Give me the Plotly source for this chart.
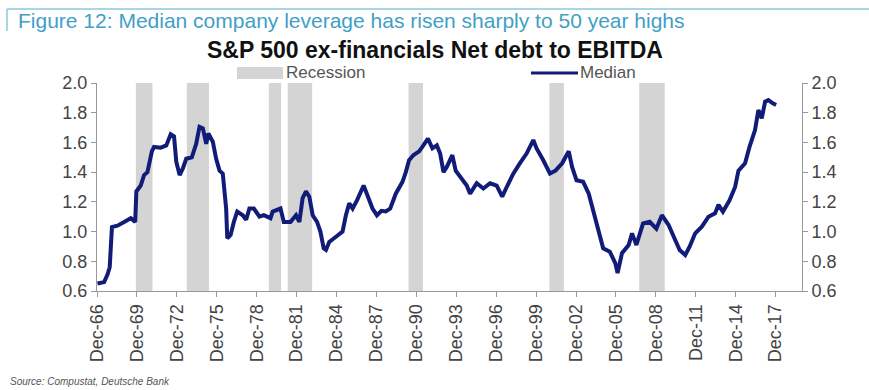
import plotly.graph_objects as go

# ---------------- data ----------------
dates = ["1966-12","1967-06","1967-09","1967-11","1968-01","1968-06","1968-12","1969-06","1969-10","1969-11",
         "1970-03","1970-06","1970-09","1971-01","1971-03","1971-09","1972-02","1972-06","1972-09","1972-11",
         "1973-02","1973-05","1973-08","1974-01","1974-05","1974-08","1974-11","1975-02","1975-04","1975-08",
         "1975-11","1976-02","1976-05","1976-08","1976-09","1976-12","1977-03","1977-06","1977-11","1978-02",
         "1978-05","1978-09","1979-02","1979-06","1979-12","1980-02","1980-09","1980-12","1981-06","1981-11",
         "1982-02","1982-05","1982-08","1982-11","1983-02","1983-06","1983-09","1983-12","1984-02","1984-05",
         "1984-11","1985-05","1985-08","1985-11","1986-02","1986-06","1986-12","1987-03","1987-08","1987-12",
         "1988-04","1988-08","1988-12","1989-05","1989-08","1989-11","1990-02","1990-05","1990-09","1991-02",
         "1991-05","1991-10","1992-02","1992-06","1992-09","1992-12","1993-03","1993-08","1993-11","1994-05",
         "1994-09","1994-12","1995-06","1995-12","1996-06","1996-12","1997-05","1997-09","1998-03","1998-09",
         "1999-03","1999-09","1999-12","2000-06","2000-12","2001-05","2001-11","2002-05","2002-08","2002-12",
         "2003-06","2003-11","2004-03","2004-08","2004-12","2005-06","2005-11","2006-01","2006-05","2006-11",
         "2007-02","2007-06","2007-12","2008-06","2008-12","2009-05","2009-11","2010-05","2010-09","2011-02",
         "2011-06","2011-11","2012-05","2012-11","2013-05","2013-08","2013-12","2014-06","2014-11","2015-02",
         "2015-08","2015-12","2016-05","2016-08","2016-11","2017-02","2017-05","2017-09","2017-12"]
median = [0.65,0.66,0.71,0.76,1.03,1.04,1.065,1.09,1.065,1.27,
          1.31,1.38,1.40,1.54,1.57,1.565,1.58,1.655,1.64,1.47,
          1.38,1.425,1.49,1.50,1.59,1.705,1.695,1.59,1.66,1.605,
          1.49,1.41,1.39,1.155,0.955,0.977,1.065,1.135,1.11,1.08,
          1.155,1.155,1.10,1.11,1.09,1.135,1.155,1.065,1.065,1.11,
          1.065,1.225,1.27,1.235,1.11,1.065,1.00,0.887,0.876,0.93,
          0.965,1.00,1.11,1.19,1.155,1.21,1.31,1.255,1.155,1.11,
          1.14,1.135,1.155,1.255,1.29,1.335,1.40,1.48,1.515,1.54,
          1.57,1.625,1.56,1.58,1.525,1.40,1.435,1.515,1.41,1.345,
          1.31,1.255,1.325,1.29,1.325,1.31,1.235,1.30,1.39,1.46,
          1.525,1.616,1.56,1.48,1.39,1.41,1.46,1.54,1.435,1.345,
          1.335,1.255,1.145,0.988,0.887,0.865,0.786,0.72,0.854,0.91,
          0.988,0.91,1.055,1.066,1.02,1.11,1.044,0.943,0.876,0.842,
          0.898,0.988,1.033,1.10,1.123,1.18,1.134,1.21,1.30,1.41,
          1.46,1.57,1.683,1.818,1.762,1.874,1.885,1.863,1.852]

rec_start = ["1969-11-01","1973-09-01","1979-11-01","1981-04-01","1990-05-01","2000-12-01","2007-09-01"]
rec_end   = ["1971-02-01","1975-05-01","1980-10-01","1983-02-01","1991-06-01","2002-01-01","2009-08-01"]

tick_years = list(range(1966, 2018, 3))
tick_labels = ["Dec-%02d" % (y % 100) for y in tick_years]
y_ticks = [0.6, 0.8, 1.0, 1.2, 1.4, 1.6, 1.8, 2.0]

header = "Figure 12: Median company leverage has risen sharply to 50 year highs"
title = "S&P 500 ex-financials Net debt to EBITDA"
source = "Source: Compustat, Deutsche Bank"

# ---------------- layout helpers ----------------
W, H = 869, 390
L, R, T, B = 97, 802, 83, 291  # plot area in pixels
def px(x):
    return (x - L) / (R - L)
def py(y):
    return (B - y) / (B - T)

LINE = "#101c78"
REC = "#d4d4d4"
FONT = "Arial, Liberation Sans, sans-serif"

fig = go.Figure()
fig.add_trace(go.Scatter(x=[d + "-15" for d in dates], y=median, mode="lines",
                         line=dict(color=LINE, width=4), showlegend=False))
fig.add_trace(go.Scatter(x=[d + "-15" for d in dates], y=median, mode="lines",
                         line=dict(color=LINE, width=0), yaxis="y2", showlegend=False,
                         hoverinfo="skip", opacity=0))

shapes = []
for s, e in zip(rec_start, rec_end):
    shapes.append(dict(type="rect", xref="x", yref="paper", x0=s, x1=e, y0=0, y1=1,
                       fillcolor=REC, line=dict(width=0), layer="below"))
# legend symbols
shapes.append(dict(type="rect", xref="paper", yref="paper", x0=px(237), x1=px(283),
                   y0=py(79), y1=py(67), fillcolor=REC, line=dict(width=0)))
shapes.append(dict(type="line", xref="paper", yref="paper", x0=px(531), x1=px(578),
                   y0=py(73), y1=py(73), line=dict(color=LINE, width=3)))
# header frame
shapes.append(dict(type="line", xref="paper", yref="paper", x0=px(7), x1=px(869),
                   y0=py(9), y1=py(9), line=dict(color="#8cc8da", width=1.5)))
shapes.append(dict(type="line", xref="paper", yref="paper", x0=px(7), x1=px(7),
                   y0=py(9), y1=py(31), line=dict(color="#8cc8da", width=1.5)))

annotations = [
    dict(text=header, xref="paper", yref="paper", x=px(16), y=py(21), xanchor="left", yanchor="middle",
         showarrow=False, font=dict(family=FONT, size=21, color="#3f9fc6")),
    dict(text="<b>" + title + "</b>", xref="paper", yref="paper", x=px(435), y=py(50),
         xanchor="center", yanchor="middle", showarrow=False, font=dict(family=FONT, size=23, color="#111")),
    dict(text="Recession", xref="paper", yref="paper", x=px(284), y=py(73), xanchor="left", yanchor="middle",
         showarrow=False, font=dict(family=FONT, size=17, color="#555")),
    dict(text="Median", xref="paper", yref="paper", x=px(578), y=py(73), xanchor="left", yanchor="middle",
         showarrow=False, font=dict(family=FONT, size=17, color="#555")),
    dict(text="<i>" + source + "</i>", xref="paper", yref="paper", x=px(8), y=py(381), xanchor="left",
         yanchor="middle", showarrow=False, font=dict(family=FONT, size=10, color="#555")),
]

axis_common = dict(showgrid=False, zeroline=False, showline=True, linecolor="#999", linewidth=1,
                   ticks="outside", ticklen=5, tickcolor="#999",
                   tickfont=dict(family=FONT, size=18, color="#444"))

fig.update_layout(
    width=W, height=H, margin=dict(l=L, r=W - R, t=T, b=H - B),
    paper_bgcolor="white", plot_bgcolor="white",
    xaxis=dict(type="date", range=["1966-12-01", "2019-11-25"],
               tickvals=["%d-12-01" % y for y in tick_years], ticktext=tick_labels,
               tickangle=-90, **axis_common),
    yaxis=dict(range=[0.6, 2.0], tickvals=y_ticks, ticktext=["%.1f" % v for v in y_ticks], **axis_common),
    yaxis2=dict(range=[0.6, 2.0], tickvals=y_ticks, ticktext=["%.1f" % v for v in y_ticks],
                overlaying="y", side="right", **axis_common),
    shapes=shapes, annotations=annotations, showlegend=False,
)

fig.write_html("out.html")
